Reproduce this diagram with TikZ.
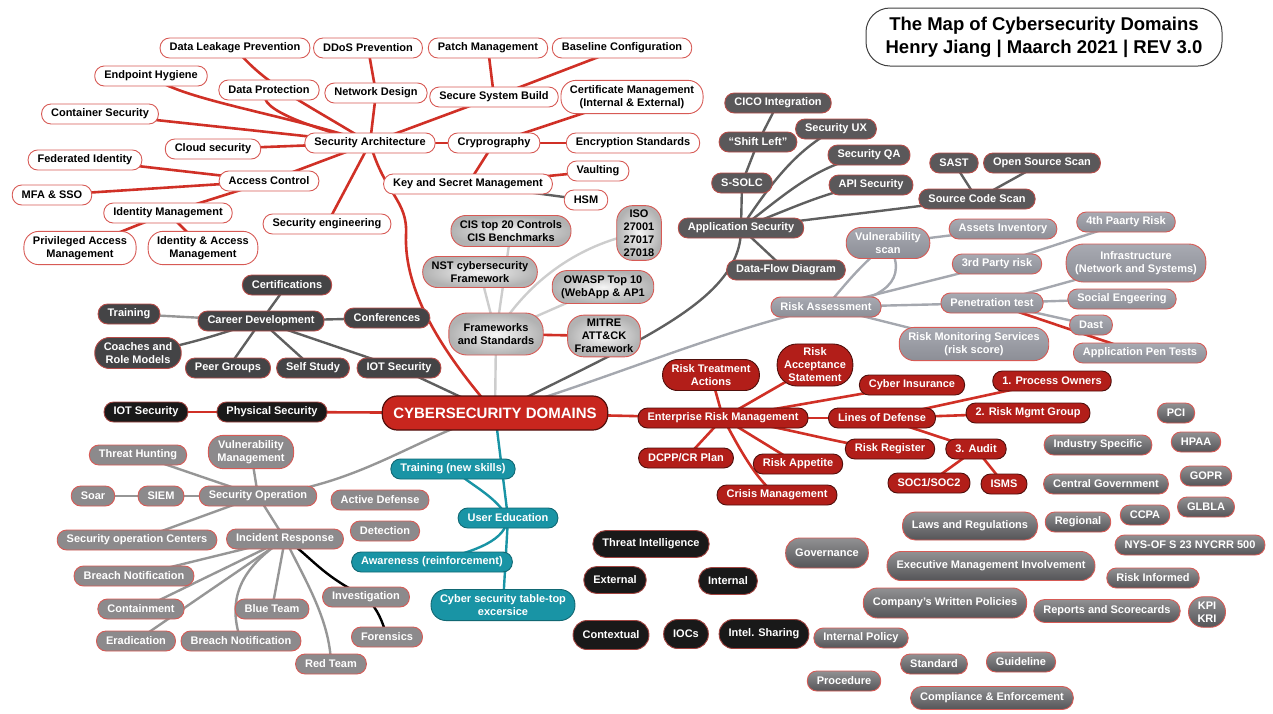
\documentclass[tikz,border=0pt]{standalone}
\usepackage{fontspec}
\setmainfont{Liberation Sans}
\usetikzlibrary{backgrounds}
\definecolor{cred}{RGB}{208,48,38}
\definecolor{bordred}{RGB}{215,90,85}
\definecolor{domred}{RGB}{200,38,30}
\definecolor{ermred}{RGB}{178,30,25}
\definecolor{dkred}{RGB}{80,15,12}
\definecolor{appgray}{RGB}{90,88,90}
\definecolor{cargray}{RGB}{68,68,70}
\definecolor{rtop}{RGB}{168,170,178}
\definecolor{rbot}{RGB}{140,142,150}
\definecolor{sogray}{RGB}{140,138,140}
\definecolor{blk}{RGB}{25,25,25}
\definecolor{tealc}{RGB}{25,148,165}
\definecolor{gtop}{RGB}{145,145,147}
\definecolor{gbot}{RGB}{85,85,88}
\definecolor{lgline}{RGB}{205,205,205}
\definecolor{mgline}{RGB}{150,150,150}
\definecolor{rgline}{RGB}{165,168,175}
\definecolor{dgline}{RGB}{95,95,95}
\tikzset{
  base/.style={rectangle, rounded corners=9.5pt, minimum height=20pt, inner xsep=9.5pt, inner ysep=4pt,
    align=center, font=\fontsize{11}{13}\selectfont\bfseries, line width=0.9pt},
  two/.style={rounded corners=15pt, inner xsep=9pt, inner ysep=5pt},
  three/.style={rounded corners=16pt, inner xsep=7pt, inner ysep=4pt},
  wnode/.style={base, draw=bordred, fill=white, text=black},
  dnode/.style={base, draw=bordred!85!black, fill=appgray, text=white},
  cnode/.style={base, draw=bordred!85!black, fill=cargray, text=white},
  rnode/.style={base, draw=bordred, top color=rtop, bottom color=rbot, text=white},
  mnode/.style={base, draw=bordred, fill=sogray, text=white},
  fnode/.style={base, draw=bordred, inner color=white!96!black, outer color=black!30, text=black},
  enode/.style={base, draw=dkred, fill=ermred, text=white},
  bnode/.style={base, draw=bordred!75!black, fill=blk, text=white},
  tnode/.style={base, draw=tealc!70!black, fill=tealc, text=white},
  gnode/.style={base, draw=bordred, top color=gtop, bottom color=gbot, text=white},
  domnode/.style={rectangle, rounded corners=15pt, minimum height=34pt, inner xsep=11pt, draw=dkred,
    line width=1.2pt, fill=domred, text=white, font=\fontsize{15}{17}\selectfont\bfseries},
  titlenode/.style={rectangle, rounded corners=24pt, minimum width=356pt, minimum height=58pt, draw=black!75,
    line width=1pt, fill=white, align=center, font=\fontsize{18.5}{23}\selectfont\bfseries},
  redline/.style={draw=cred, line width=2.6pt, line cap=round},
  grayline/.style={draw=mgline, line width=2.4pt, line cap=round},
  riskline/.style={draw=rgline, line width=2.4pt, line cap=round},
  darkline/.style={draw=dgline, line width=2.4pt, line cap=round},
  lightline/.style={draw=lgline, line width=2.4pt, line cap=round},
  tealline/.style={draw=tealc, line width=2.4pt, line cap=round},
  blackline/.style={draw=black, line width=2.4pt, line cap=round},
}
\begin{document}
\begin{tikzpicture}[x=1pt,y=-1pt]
\useasboundingbox (0,0) rectangle (1273,713);
% title
\node[titlenode] (title) at (1044,37) {The Map of Cybersecurity Domains\\Henry Jiang | Maarch 2021 | REV 3.0};
% security architecture cluster
\node[wnode] (dlp) at (235,48) {Data Leakage Prevention};
\node[wnode] (ddos) at (368,48) {DDoS Prevention};
\node[wnode] (pm) at (488,48) {Patch Management};
\node[wnode] (bc) at (622,48) {Baseline Configuration};
\node[wnode] (eh) at (151,76) {Endpoint Hygiene};
\node[wnode] (dp) at (269,90) {Data Protection};
\node[wnode] (nd) at (376,93) {Network Design};
\node[wnode] (ssb) at (494,97) {Secure System Build};
\node[wnode,two] (cm) at (632,97) {Certificate Management\\(Internal \& External)};
\node[wnode] (cs) at (100,114) {Container Security};
\node[wnode] (sa) at (370,143) {Security Architecture};
\node[wnode] (cry) at (494,143) {Cryprography};
\node[wnode] (es) at (633,143) {Encryption Standards};
\node[wnode] (cls) at (213,149) {Cloud security};
\node[wnode] (fi) at (85,160) {Federated Identity};
\node[wnode] (ac) at (269,181) {Access Control};
\node[wnode] (mfa) at (52,195) {MFA \& SSO};
\node[wnode] (ksm) at (468,184) {Key and Secret Management};
\node[wnode] (vault) at (598,171) {Vaulting};
\node[wnode] (hsm) at (586,200) {HSM};
\node[wnode] (im) at (168,213) {Identity Management};
\node[wnode] (se) at (327,224) {Security engineering};
\node[wnode,two] (pam) at (80,248) {Privileged Access\\Management};
\node[wnode,two] (iam) at (203,248) {Identity \& Access\\Management};
% frameworks
\node[fnode,two] (cis) at (511,231) {CIS top 20 Controls\\CIS Benchmarks};
\node[fnode,three] (iso) at (639,233) {ISO\\27001\\27017\\27018};
\node[fnode,two] (nst) at (480,272) {NST cybersecurity\\Framework};
\node[fnode,two] (owasp) at (603,287) {OWASP Top 10\\(WebApp \& AP1};
\node[fnode,two,minimum height=42pt,rounded corners=18pt] (fw) at (496,334) {Frameworks\\and Standards};
\node[fnode,three] (mitre) at (604,336) {MITRE\\ATT\&CK\\Framework};
% application security
\node[dnode] (cico) at (778,103) {CICO Integration};
\node[dnode] (shift) at (758,142) {“Shift Left”};
\node[dnode] (sux) at (836,129) {Security UX};
\node[dnode] (sqa) at (869,155) {Security QA};
\node[dnode] (ssolc) at (742,183) {S-SOLC};
\node[dnode] (api) at (871,185) {API Security};
\node[dnode] (sast) at (954,163) {SAST};
\node[dnode] (oss) at (1042,163) {Open Source Scan};
\node[dnode] (scs) at (977,199) {Source Code Scan};
\node[dnode] (appsec) at (741,228) {Application Security};
\node[dnode] (dfd) at (786,270) {Data-Flow Diagram};
% risk assessment
\node[rnode,two] (vs) at (888,243) {Vulnerability\\scan};
\node[rnode] (ai) at (1003,229) {Assets Inventory};
\node[rnode] (fpr) at (1126,222) {4th Paarty Risk};
\node[rnode] (tpr) at (997,264) {3rd Party risk};
\node[rnode,two,minimum height=38pt,rounded corners=17pt] (infra) at (1136,263) {Infrastructure\\(Network and Systems)};
\node[rnode] (ra) at (826,307) {Risk Assessment};
\node[rnode] (pt) at (992,303) {Penetration test};
\node[rnode] (seng) at (1122,299) {Social Engeering};
\node[rnode] (dast) at (1091,325) {Dast};
\node[rnode,two] (rms) at (974,344) {Risk Monitoring Services\\(risk score)};
\node[rnode] (apt) at (1140,353) {Application Pen Tests};
% enterprise risk management
\node[enode,two] (rta) at (711,375) {Risk Treatment\\Actions};
\node[enode,three,rounded corners=20pt] (ras) at (815,365) {Risk\\Acceptance\\Statement};
\node[enode] (ci) at (912,385) {Cyber Insurance};
\node[enode] (po) at (1052,381) {1. Process Owners};
\node[enode] (erm) at (723,418) {Enterprise Risk Management};
\node[enode] (lod) at (882,418) {Lines of Defense};
\node[enode] (rmg) at (1028,413) {2. Risk Mgmt Group};
\node[enode] (rr) at (890,449) {Risk Register};
\node[enode] (aud) at (976,449) {3. Audit};
\node[enode] (dcpp) at (686,458) {DCPP/CR Plan};
\node[enode] (rap) at (798,464) {Risk Appetite};
\node[enode] (soc12) at (929,483) {SOC1/SOC2};
\node[enode] (isms) at (1004,484) {ISMS};
\node[enode] (crm) at (777,495) {Crisis Management};
% career development
\node[cnode] (cert) at (287,285) {Certifications};
\node[cnode] (train) at (129,314) {Training};
\node[cnode] (cd) at (261,321) {Career Development};
\node[cnode] (conf) at (387,318) {Conferences};
\node[cnode,two] (coach) at (138,353) {Coaches and\\Role Models};
\node[cnode] (peer) at (228,368) {Peer Groups};
\node[cnode] (self) at (313,368) {Self Study};
\node[cnode] (iot1) at (399,368) {IOT Security};
% physical
\node[bnode] (iot2) at (146,412) {IOT Security};
\node[bnode] (phys) at (272,412) {Physical Security};
% centre
\node[domnode] (dom) at (495,413) {CYBERSECURITY DOMAINS};
% security operation
\node[mnode] (th) at (138,455) {Threat Hunting};
\node[mnode,two] (vm) at (251,452) {Vulnerability\\Management};
\node[mnode] (soar) at (93,496) {Soar};
\node[mnode] (siem) at (161,496) {SIEM};
\node[mnode] (so) at (258,496) {Security Operation};
\node[mnode] (ad) at (380,500) {Active Defense};
\node[mnode] (soc) at (137,540) {Security operation Centers};
\node[mnode] (ir) at (285,539) {Incident Response};
\node[mnode] (det) at (385,531) {Detection};
\node[mnode] (bn1) at (134,576) {Breach Notification};
\node[mnode] (inv) at (366,597) {Investigation};
\node[mnode] (cont) at (141,609) {Containment};
\node[mnode] (blue) at (272,609) {Blue Team};
\node[mnode] (for) at (387,637) {Forensics};
\node[mnode] (erad) at (136,641) {Eradication};
\node[mnode] (bn2) at (241,641) {Breach Notification};
\node[mnode] (red) at (331,664) {Red Team};
% user education
\node[tnode] (tr) at (453,469) {Training (new skills)};
\node[tnode] (ue) at (508,518) {User Education};
\node[tnode] (aw) at (432,562) {Awareness (reinforcement)};
\node[tnode,two] (ct) at (503,605) {Cyber security table-top\\excersice};
% threat intelligence
\node[bnode,minimum height=27pt,rounded corners=13pt] (ti) at (651,544) {Threat Intelligence};
\node[bnode,minimum height=27pt,rounded corners=13pt] (ext) at (615,580) {External};
\node[bnode,minimum height=27pt,rounded corners=13pt] (int) at (728,581) {Internal};
\node[bnode,minimum height=29pt,rounded corners=14pt] (ctx) at (611,635) {Contextual};
\node[bnode,minimum height=29pt,rounded corners=14pt] (iocs) at (686,634) {IOCs};
\node[bnode,minimum height=29pt,rounded corners=14pt] (share) at (764,634) {Intel. Sharing};
% governance
\node[gnode,minimum height=30pt,rounded corners=14pt] (gov) at (827,553) {Governance};
\node[gnode] (pci) at (1176,413) {PCI};
\node[gnode] (hpaa) at (1196,442) {HPAA};
\node[gnode] (ind) at (1098,445) {Industry Specific};
\node[gnode] (gopr) at (1206,476) {GOPR};
\node[gnode] (cgov) at (1106,484) {Central Government};
\node[gnode] (glbla) at (1206,507) {GLBLA};
\node[gnode,minimum height=28pt,rounded corners=13pt] (laws) at (970,526) {Laws and Regulations};
\node[gnode] (reg) at (1078,522) {Regional};
\node[gnode] (ccpa) at (1145,515) {CCPA};
\node[gnode] (nys) at (1190,545) {NYS-OF S 23 NYCRR 500};
\node[gnode,minimum height=29pt,rounded corners=14pt] (emi) at (991,566) {Executive Management Involvement};
\node[gnode] (ri) at (1153,578) {Risk Informed};
\node[gnode,minimum height=30pt,rounded corners=14pt] (cwp) at (945,603) {Company's Written Policies};
\node[gnode,minimum height=23pt,rounded corners=11pt] (rs) at (1107,611) {Reports and Scorecards};
\node[gnode,two] (kpi) at (1207,612) {KPI\\KRI};
\node[gnode] (ip) at (861,638) {Internal Policy};
\node[gnode] (std) at (934,664) {Standard};
\node[gnode] (gl) at (1021,662) {Guideline};
\node[gnode] (proc) at (844,681) {Procedure};
\node[gnode,minimum height=23pt,rounded corners=11pt] (ce) at (992,698) {Compliance \& Enforcement};

\begin{scope}[on background layer]
% security architecture
\draw[redline] (dlp.center) .. controls (265,85) and (300,100) .. (sa.center);
\draw[redline] (eh.center) .. controls (180,100) and (290,115) .. (sa.center);
\draw[redline] (dp.center) .. controls (250,105) and (300,125) .. (sa.center);
\draw[redline] (cs.center) -- (sa.center);
\draw[redline] (cls.center) -- (sa.center);
\draw[redline] (ddos.center) -- (nd.center);
\draw[redline] (nd.center) -- (sa.center);
\draw[redline] (pm.center) -- (ssb.center);
\draw[redline] (bc.center) -- (ssb.center);
\draw[redline] (ssb.center) -- (sa.center);
\draw[redline] (ac.center) -- (sa.center);
\draw[redline] (fi.center) -- (ac.center);
\draw[redline] (mfa.center) -- (ac.center);
\draw[redline] (ac.center) -- (im.center);
\draw[redline] (im.center) -- (pam.center);
\draw[redline] (im.center) -- (iam.center);
\draw[redline] (se.center) -- (sa.center);
\draw[redline] (sa.center) -- (cry.center);
\draw[redline] (cry.center) -- (cm.center);
\draw[redline] (cry.center) -- (es.center);
\draw[redline] (cry.center) -- (ksm.center);
\draw[redline] (ksm.center) -- (vault.center);
\draw[darkline] (ksm.center) -- (hsm.center);
\draw[redline] (sa.center) .. controls (385,195) and (408,200) .. (406,235) .. controls (404,290) and (440,350) .. (dom.center);
% frameworks
\draw[lightline] (fw.center) -- (nst.center);
\draw[lightline] (fw.center) -- (cis.center);
\draw[lightline] (fw.center) .. controls (525,285) and (575,245) .. (iso.center);
\draw[lightline] (fw.center) -- (owasp.center);
\draw[redline] (fw.center) -- (mitre.center);
\draw[lightline] (fw.center) -- (dom.center);
% application security
\draw[darkline] (cico.center) -- (shift.center);
\draw[darkline] (shift.center) -- (ssolc.center);
\draw[darkline] (ssolc.center) -- (appsec.center);
\draw[darkline] (appsec.center) .. controls (770,185) and (795,150) .. (sux.center);
\draw[darkline] (appsec.center) .. controls (785,195) and (815,165) .. (sqa.center);
\draw[darkline] (appsec.center) .. controls (800,205) and (830,190) .. (api.center);
\draw[darkline] (appsec.center) -- (scs.center);
\draw[darkline] (scs.center) -- (sast.center);
\draw[darkline] (scs.center) -- (oss.center);
\draw[darkline] (appsec.center) -- (dfd.center);
\draw[darkline] (dom.center) .. controls (640,340) and (742,300) .. (appsec.center);
% risk assessment
\draw[riskline] (ra.center) .. controls (845,285) and (860,265) .. (vs.center);
\draw[riskline] (ra.center) .. controls (885,300) and (910,280) .. (vs.center);
\draw[riskline] (vs.center) -- (ai.center);
\draw[riskline] (ra.center) -- (tpr.center);
\draw[riskline] (tpr.center) -- (fpr.center);
\draw[riskline] (ra.center) -- (pt.center);
\draw[riskline] (pt.center) -- (infra.center);
\draw[riskline] (pt.center) -- (seng.center);
\draw[riskline] (pt.center) -- (dast.center);
\draw[redline] (pt.center) -- (apt.center);
\draw[riskline] (ra.center) -- (rms.center);
\draw[riskline] (dom.center) .. controls (620,375) and (720,330) .. (ra.center);
% enterprise risk management
\draw[redline] (dom.center) -- (erm.center);
\draw[redline] (erm.center) -- (rta.center);
\draw[redline] (erm.center) -- (ras.center);
\draw[redline] (erm.center) -- (ci.center);
\draw[redline] (erm.center) -- (lod.center);
\draw[redline] (erm.center) .. controls (800,430) and (840,445) .. (rr.center);
\draw[redline] (erm.center) -- (dcpp.center);
\draw[redline] (erm.center) -- (rap.center);
\draw[redline] (erm.center) .. controls (735,440) and (755,480) .. (crm.center);
\draw[redline] (lod.center) -- (po.center);
\draw[redline] (lod.center) -- (rmg.center);
\draw[redline] (lod.center) -- (aud.center);
\draw[redline] (aud.center) -- (soc12.center);
\draw[redline] (aud.center) -- (isms.center);
% career development
\draw[darkline] (cd.center) -- (cert.center);
\draw[grayline] (cd.center) -- (train.center);
\draw[darkline] (cd.center) -- (conf.center);
\draw[darkline] (cd.center) .. controls (215,335) and (190,345) .. (coach.center);
\draw[darkline] (cd.center) -- (peer.center);
\draw[darkline] (cd.center) -- (self.center);
\draw[darkline] (cd.center) -- (iot1.center);
\draw[darkline] (iot1.center) -- (dom.center);
% physical security
\draw[redline] (dom.center) -- (phys.center);
\draw[redline] (phys.center) -- (iot2.center);
% security operation
\draw[grayline] (so.center) -- (th.center);
\draw[grayline] (so.center) -- (vm.center);
\draw[grayline] (so.center) -- (siem.center);
\draw[grayline] (siem.center) -- (soar.center);
\draw[grayline] (so.center) -- (soc.center);
\draw[grayline] (so.center) -- (ir.center);
\draw[grayline] (so.center) .. controls (360,485) and (410,440) .. (dom.center);
\draw[grayline] (ir.center) -- (bn1.center);
\draw[grayline] (ir.center) -- (cont.center);
\draw[grayline] (ir.center) -- (erad.center);
\draw[grayline] (ir.center) .. controls (245,565) and (225,595) .. (bn2.center);
\draw[grayline] (ir.center) -- (blue.center);
\draw[grayline] (ir.center) .. controls (305,580) and (330,620) .. (red.center);
\draw[blackline] (ir.center) .. controls (310,555) and (320,575) .. (inv.center);
\draw[blackline] (inv.center) .. controls (378,610) and (382,620) .. (for.center);
% user education
\draw[tealline] (dom.center) -- (ue.center);
\draw[tealline] (tr.center) .. controls (470,485) and (495,495) .. (ue.center);
\draw[tealline] (ue.center) .. controls (505,540) and (480,550) .. (aw.center);
\draw[tealline] (ue.center) -- (ct.center);
\end{scope}
\end{tikzpicture}
\end{document}
